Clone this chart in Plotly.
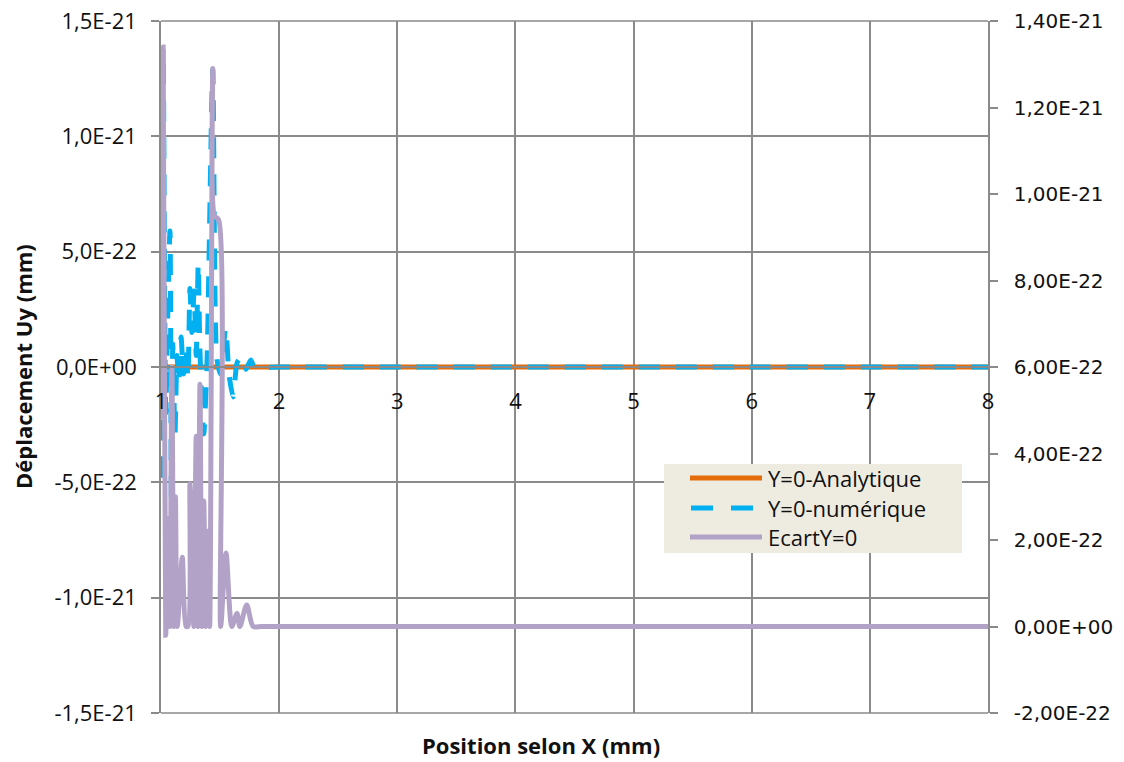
import plotly.graph_objects as go

# ---------------- data (values in units of 1E-22 mm) ----------------
x_analytique = [1.0, 2.0, 3.0, 4.0, 5.0, 6.0, 7.0, 8.0]
y_analytique = [0.0, 0.0, 0.0, 0.0, 0.0, 0.0, 0.0, 0.0]

x_numerique = [1.000, 1.018, 1.040, 1.060, 1.076, 1.088, 1.100, 1.118, 1.135, 1.150,
               1.170, 1.190, 1.210, 1.228, 1.245, 1.262, 1.280, 1.298, 1.315, 1.328,
               1.345, 1.362, 1.390, 1.438, 1.470, 1.500, 1.548, 1.575, 1.610, 1.645,
               1.690, 1.720, 1.760, 1.790, 2.0, 3.0, 4.0, 5.0, 6.0, 7.0, 8.0]
y_numerique = [-4.8, 13.8, -2.0, 3.0, 5.9, -6.2, 1.0, -3.0, 0.5, -0.7,
               1.3, -0.3, 0.9, -0.5, 3.4, 1.5, 3.3, 0.5, 4.5, 1.0,
               -1.5, -2.9, 0.3, 12.9, 0.5, -0.3, 1.7, -0.3, -1.3, 0.2,
               0.5, -0.1, 0.3, 0.0, 0.0, 0.0, 0.0, 0.0, 0.0, 0.0, 0.0]

x_ecart = [1.000, 1.018, 1.040, 1.058, 1.075, 1.092, 1.108, 1.122, 1.138, 1.180,
           1.212, 1.228, 1.245, 1.262, 1.278, 1.298, 1.312, 1.330, 1.345, 1.362,
           1.378, 1.395, 1.412, 1.438, 1.452, 1.488, 1.505, 1.550, 1.600, 1.643,
           1.668, 1.725, 1.780, 1.850, 2.0, 3.0, 4.0, 5.0, 6.0, 7.0, 8.0]
y_ecart = [4.8, 13.4, -0.2, 2.5, 0.0, 6.0, 0.0, 3.0, 0.0, 1.6,
           0.0, 0.0, 3.3, 2.1, 0.0, 4.4, 0.0, 5.6, 0.0, 2.9,
           0.0, 2.2, 0.0, 12.9, 9.5, 9.4, 0.0, 1.7, 0.0, 0.3,
           0.0, 0.5, 0.0, 0.0, 0.0, 0.0, 0.0, 0.0, 0.0, 0.0, 0.0]

x_ticks = [1, 2, 3, 4, 5, 6, 7, 8]
x_ticktext = ["1", "2", "3", "4", "5", "6", "7", "8"]
y_ticks = [-15, -10, -5, 0, 5, 10, 15]
y_ticktext = ["-1,5E-21", "-1,0E-21", "-5,0E-22", "0,0E+00", "5,0E-22", "1,0E-21", "1,5E-21"]
y2_ticks = [-2, 0, 2, 4, 6, 8, 10, 12, 14]
y2_ticktext = ["-2,00E-22", "0,00E+00", "2,00E-22", "4,00E-22", "6,00E-22",
               "8,00E-22", "1,00E-21", "1,20E-21", "1,40E-21"]

names = ["Y=0-Analytique", "Y=0-numérique", "EcartY=0"]
colors = ["#E46C0A", "#00B0F0", "#B3A2C7"]

# ---------------- figure ----------------
W, H = 1124, 762
L, R, T, B = 161, 136, 21, 49
pw, ph = W - L - R, H - T - B

def px(xp):
    return (xp - L) / pw

def py(yp):
    return (H - B - yp) / ph

GRID = "#8A8A8A"
TXT = "#111111"
FONT = "Open Sans"
FS = 22

fig = go.Figure()
fig.add_trace(go.Scatter(x=x_analytique, y=y_analytique, mode="lines", name=names[0],
                         line=dict(color=colors[0], width=5), showlegend=False))
fig.add_trace(go.Scatter(x=x_numerique, y=y_numerique, mode="lines", name=names[1],
                         line=dict(color=colors[1], width=5, dash="21px,16px",
                                   shape="spline", smoothing=0.6), showlegend=False))
fig.add_trace(go.Scatter(x=x_ecart, y=y_ecart, mode="lines", name=names[2], yaxis="y2",
                         line=dict(color=colors[2], width=5, shape="spline", smoothing=0.8),
                         showlegend=False))

fig.update_layout(
    width=W, height=H,
    margin=dict(l=L, r=R, t=T, b=B, autoexpand=False),
    paper_bgcolor="white", plot_bgcolor="white",
    font=dict(family=FONT, size=FS, color=TXT),
    xaxis=dict(range=[1, 8], tickvals=x_ticks, ticktext=x_ticktext, automargin=False,
               showgrid=True, gridcolor=GRID, gridwidth=1.5, zeroline=False,
               anchor="free", position=0.5, showline=True, linecolor=GRID, linewidth=1.5,
               ticks="", ticklabelstandoff=15,
               tickfont=dict(family=FONT, size=FS, color=TXT)),
    yaxis=dict(range=[-15, 15], tickvals=y_ticks, ticktext=y_ticktext, automargin=False,
               showgrid=True, gridcolor=GRID, gridwidth=1.5, zeroline=False,
               showline=True, linecolor=GRID, linewidth=1.5,
               ticks="outside", ticklen=8, tickcolor=GRID, tickwidth=1.5,
               ticklabelstandoff=10,
               tickfont=dict(family=FONT, size=FS, color=TXT)),
    yaxis2=dict(range=[-2, 14], tickvals=y2_ticks, ticktext=y2_ticktext, automargin=False,
                overlaying="y", side="right", showgrid=False, zeroline=False,
                showline=True, linecolor=GRID, linewidth=1.5,
                ticks="outside", ticklen=8, tickcolor=GRID, tickwidth=1.5,
                ticklabelstandoff=12,
                tickfont=dict(family="DejaVu Sans", size=20, color=TXT)),
)

# top and bottom gridlines (+/-1,5E-21) that sit on the plot-area edges
for yy in (0, 1):
    fig.add_shape(type="line", xref="paper", yref="paper", x0=0, x1=1, y0=yy, y1=yy,
                  line=dict(color=GRID, width=1.5), layer="below")

# axis titles
fig.add_annotation(text="<b>Position selon X (mm)</b>", xref="paper", yref="paper",
                   x=px(541), y=py(745), xanchor="center", yanchor="middle",
                   showarrow=False, font=dict(family=FONT, size=FS, color=TXT))
fig.add_annotation(text="<b>Déplacement Uy (mm)</b>", xref="paper", yref="paper",
                   x=px(23), y=0.5, xanchor="center", yanchor="middle", textangle=-90,
                   showarrow=False, font=dict(family=FONT, size=FS, color=TXT))

# legend box (drawn to match the original Excel legend)
fig.add_shape(type="rect", xref="paper", yref="paper",
              x0=px(664), x1=px(962), y0=py(553), y1=py(464),
              fillcolor="#EEECE1", line=dict(width=0), layer="above")
leg_y = [478, 508, 537]
fig.add_shape(type="line", xref="paper", yref="paper", x0=px(690), x1=px(762),
              y0=py(leg_y[0]), y1=py(leg_y[0]), line=dict(color=colors[0], width=5),
              layer="above")
fig.add_shape(type="line", xref="paper", yref="paper", x0=px(691), x1=px(713),
              y0=py(leg_y[1]), y1=py(leg_y[1]), line=dict(color=colors[1], width=5),
              layer="above")
fig.add_shape(type="line", xref="paper", yref="paper", x0=px(731), x1=px(753),
              y0=py(leg_y[1]), y1=py(leg_y[1]), line=dict(color=colors[1], width=5),
              layer="above")
fig.add_shape(type="line", xref="paper", yref="paper", x0=px(690), x1=px(762),
              y0=py(leg_y[2]), y1=py(leg_y[2]), line=dict(color=colors[2], width=5),
              layer="above")
for nm, yy in zip(names, leg_y):
    fig.add_annotation(text=nm, xref="paper", yref="paper", x=px(766), y=py(yy),
                       xanchor="left", yanchor="middle", showarrow=False,
                       font=dict(family=FONT, size=FS, color=TXT))

fig.write_html("out.html", config={"displayModeBar": False},
               post_script="document.body.style.margin='0';document.body.style.overflow='hidden';")
